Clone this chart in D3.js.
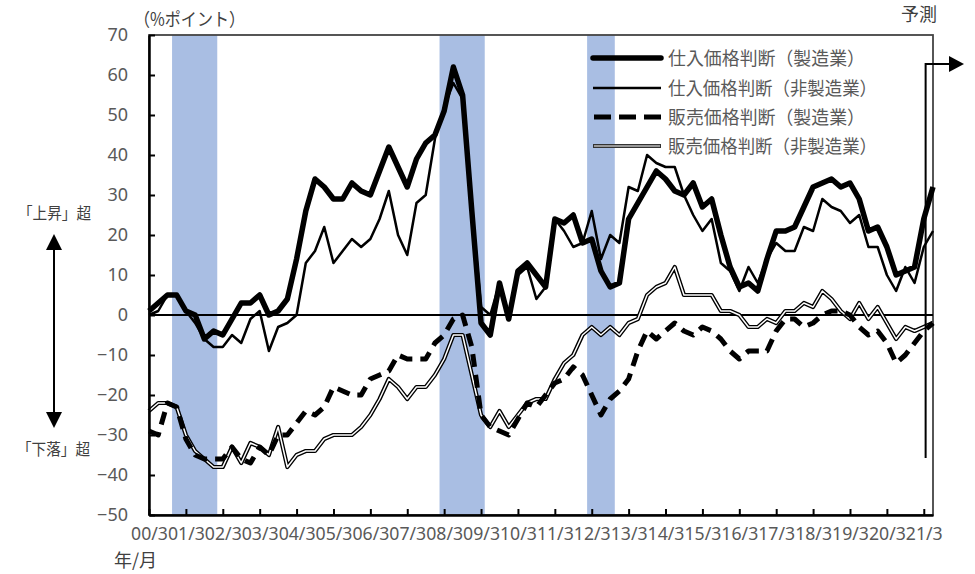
<!DOCTYPE html>
<html>
<head>
<meta charset="utf-8">
<script src="https://cdn.jsdelivr.net/npm/d3@7"></script>
<style>
  body { margin: 0; background: #fff; }
  svg { font-family: "Noto Sans CJK JP", "Noto Sans", sans-serif; }
</style>
</head>
<body>
<svg id="chart" width="975" height="574"></svg>
<script>
// quarterly, 2000/3 .. 2021/6 (last point = forecast)
var tickLabels = ["00/3","01/3","02/3","03/3","04/3","05/3","06/3","07/3","08/3","09/3","10/3",
                  "11/3","12/3","13/3","14/3","15/3","16/3","17/3","18/3","19/3","20/3","21/3"];
var yTicks = [-50,-40,-30,-20,-10,0,10,20,30,40,50,60,70];

var seriesNames = ["仕入価格判断（製造業）","仕入価格判断（非製造業）","販売価格判断（製造業）","販売価格判断（非製造業）"];

var inputMfg = [1,3,5,5,1,0,-6,-4,-5,-1,3,3,5,0,1,4,14,26,34,32,29,29,33,31,30,36,42,37,32,39,43,45,51,62,55,26,
                -2,-5,8,-1,11,13,10,7,24,23,25,18,19,11,7,8,24,28,32,36,34,31,30,33,27,29,20,12,7,8,6,14,21,21,22,
                27,32,33,34,32,33,29,21,22,17,10,11,12,24,32];
var inputNonMfg = [0,1,5,5,1,-2,-6,-8,-8,-5,-7,-1,1,-9,-3,-2,0,13,16,22,13,16,19,17,19,24,31,20,15,28,30,44,52,58,54,27,
                2,0,8,0,10,12,4,7,24,21,17,18,26,14,20,18,32,31,40,38,37,37,30,25,21,24,13,11,6,12,8,14,18,16,16,
                22,21,29,27,26,23,25,17,17,10,6,12,8,17,21];
var outputMfg = [-29,-30,-22,-23,-31,-35,-36,-36,-36,-33,-36,-37,-33,-35,-30,-30,-27,-24,-25,-23,-18,-19,-20,-20,-16,-15,
                -14,-10,-11,-11,-11,-7,-5,-1,0,-8,-25,-28,-29,-30,-26,-22,-23,-20,-17,-16,-13,-15,-20,-25,-21,-19,-16,-9,
                -4,-6,-4,-2,-4,-5,-3,-4,-6,-9,-11,-9,-9,-9,-4,-1,-1,-3,-2,0,1,1,0,-3,-5,-4,-7,-12,-10,-7,-4,-2];
var outputNonMfg = [-24,-22,-22,-23,-30,-34,-36,-38,-38,-33,-37,-32,-33,-35,-28,-38,-35,-34,-34,-31,-30,-30,-30,-28,-25,-21,
                -16,-18,-21,-18,-18,-15,-11,-5,-5,-15,-25,-28,-24,-28,-25,-22,-21,-21,-16,-12,-10,-5,-3,-5,-3,-5,-2,-1,
                5,7,8,12,5,5,5,5,1,1,0,-3,-3,-1,-2,1,1,3,2,6,4,1,-1,3,-1,2,-2,-6,-3,-4,-3,-2];

// recession shading, in quarter-index units
var bandStarts = [2.5, 31.5, 47.5];
var bandEnds = [7.4, 36.4, 50.5];

var forecastAt = 84.2;

function Draw() {
    var svg = d3.select("#chart");
    var plot = {left:149, right:933, top:35, bottom:515};

    var x = d3.scaleLinear().domain([0, inputMfg.length - 1]).range([plot.left, plot.right]);
    var y = d3.scaleLinear().domain([-50, 70]).range([plot.bottom, plot.top]);

    // shaded bands
    svg.append("g").selectAll("rect").data(bandStarts).enter()
       .append("rect")
       .attr("x", function(d) { return x(d); })
       .attr("y", plot.top)
       .attr("width", function(d, i) { return x(bandEnds[i]) - x(d); })
       .attr("height", plot.bottom - plot.top)
       .attr("fill", "#a9bee3");

    // frame (top / right)
    svg.append("rect")
       .attr("x", plot.left).attr("y", plot.top)
       .attr("width", plot.right - plot.left).attr("height", plot.bottom - plot.top)
       .attr("fill", "none").attr("stroke", "#444").attr("stroke-width", 1.8);

    // zero line
    svg.append("line")
       .attr("x1", plot.left).attr("x2", plot.right)
       .attr("y1", y(0)).attr("y2", y(0))
       .attr("stroke", "#000").attr("stroke-width", 2);

    var line = d3.line()
                 .x(function(d, i) { return x(i); })
                 .y(function(d) { return y(d); });

    // 販売 非製造業: double line
    svg.append("path").attr("d", line(outputNonMfg))
       .attr("fill", "none").attr("stroke", "#000").attr("stroke-width", 4.2).attr("stroke-linejoin", "round");
    svg.append("path").attr("d", line(outputNonMfg))
       .attr("fill", "none").attr("stroke", "#fff").attr("stroke-width", 1.5).attr("stroke-linejoin", "round");

    // 販売 製造業: thick dashed
    svg.append("path").attr("d", line(outputMfg))
       .attr("fill", "none").attr("stroke", "#000").attr("stroke-width", 5)
       .attr("stroke-dasharray", "13,8").attr("stroke-linejoin", "round");

    // 仕入 非製造業: thin solid
    svg.append("path").attr("d", line(inputNonMfg))
       .attr("fill", "none").attr("stroke", "#000").attr("stroke-width", 2.5).attr("stroke-linejoin", "round");

    // 仕入 製造業: thick solid
    svg.append("path").attr("d", line(inputMfg))
       .attr("fill", "none").attr("stroke", "#000").attr("stroke-width", 5.5).attr("stroke-linejoin", "round");

    // Axes
    var yAxis = svg.append("g")
       .attr("transform", "translate(" + plot.left + ",0)")
       .call(d3.axisLeft(y).tickValues(yTicks).tickSize(-6).tickSizeOuter(0).tickPadding(21)
              .tickFormat(d3.format("d")));
    yAxis.attr("font-family", "'Noto Sans', sans-serif");
    yAxis.select(".domain").attr("stroke-width", 2.5);
    yAxis.selectAll(".tick line").attr("stroke-width", 2);
    yAxis.selectAll("text").attr("font-size", 18).attr("fill", "#595959");

    var xAxis = svg.append("g")
       .attr("transform", "translate(0," + plot.bottom + ")")
       .call(d3.axisBottom(x).tickValues(d3.range(0, tickLabels.length * 4, 4))
              .tickSize(-6).tickSizeOuter(0).tickPadding(12)
              .tickFormat(function(d, i) { return tickLabels[i]; }));
    xAxis.attr("font-family", "'Noto Sans', sans-serif");
    xAxis.select(".domain").attr("stroke-width", 2.5);
    xAxis.selectAll(".tick line").attr("stroke-width", 2);
    xAxis.selectAll("text").attr("font-size", 18.5).attr("fill", "#595959")
         .attr("textLength", 36.9).attr("lengthAdjust", "spacingAndGlyphs");

    // Texts
    svg.append("text").attr("x", 134).attr("y", 26)
       .attr("font-size", 18).attr("fill", "#404040")
       .attr("textLength", 111).attr("lengthAdjust", "spacingAndGlyphs").text("（%ポイント）");
    svg.append("text").attr("x", 937).attr("y", 21).attr("text-anchor", "end")
       .attr("font-size", 18).attr("fill", "#404040").text("予測");
    svg.append("text").attr("x", 114).attr("y", 567)
       .attr("font-size", 18).attr("fill", "#404040").text("年/月");
    svg.append("text").attr("x", 18).attr("y", 219)
       .attr("font-size", 16).attr("fill", "#404040")
       .attr("textLength", 73).attr("lengthAdjust", "spacingAndGlyphs").text("「上昇」超");
    svg.append("text").attr("x", 17).attr("y", 455)
       .attr("font-size", 16).attr("fill", "#404040")
       .attr("textLength", 73).attr("lengthAdjust", "spacingAndGlyphs").text("「下落」超");

    // up/down arrow
    svg.append("line").attr("x1", 54).attr("x2", 54).attr("y1", 245).attr("y2", 418)
       .attr("stroke", "#000").attr("stroke-width", 2);
    svg.append("path").attr("d", "M54,234 L46,250 L62,250 Z").attr("fill", "#000");
    svg.append("path").attr("d", "M54,428 L46,412 L62,412 Z").attr("fill", "#000");

    // forecast marker
    var fx = x(forecastAt);
    svg.append("path").attr("d", "M" + fx + ",458 L" + fx + ",64 L950,64")
       .attr("fill", "none").attr("stroke", "#000").attr("stroke-width", 2);
    svg.append("path").attr("d", "M964,64 L949,56 L949,72 Z").attr("fill", "#000");

    // Legend
    var legendY = [58, 88, 117, 146];
    var legendTextLen = [197, 209, 197, 209];
    var lg = svg.append("g");
    lg.append("line").attr("x1", 593).attr("x2", 661).attr("y1", legendY[0]).attr("y2", legendY[0])
      .attr("stroke", "#000").attr("stroke-width", 5.5).attr("stroke-linecap", "round");
    lg.append("line").attr("x1", 593).attr("x2", 661).attr("y1", legendY[1]).attr("y2", legendY[1])
      .attr("stroke", "#000").attr("stroke-width", 2.5);
    lg.append("line").attr("x1", 594).attr("x2", 661).attr("y1", legendY[2]).attr("y2", legendY[2])
      .attr("stroke", "#000").attr("stroke-width", 5).attr("stroke-dasharray", "17,8");
    lg.append("line").attr("x1", 593).attr("x2", 661).attr("y1", legendY[3]).attr("y2", legendY[3])
      .attr("stroke", "#333").attr("stroke-width", 4.2);
    lg.append("line").attr("x1", 594).attr("x2", 660).attr("y1", legendY[3]).attr("y2", legendY[3])
      .attr("stroke", "#bbb").attr("stroke-width", 1.6);
    lg.selectAll("text").data(seriesNames).enter()
      .append("text")
      .attr("x", 668)
      .attr("y", function(d, i) { return legendY[i] + 6.5; })
      .attr("font-size", 18.5).attr("fill", "#595959")
      .attr("textLength", function(d, i) { return legendTextLen[i]; })
      .attr("lengthAdjust", "spacingAndGlyphs")
      .text(function(d) { return d; });
}

Draw();
</script>
</body>
</html>
